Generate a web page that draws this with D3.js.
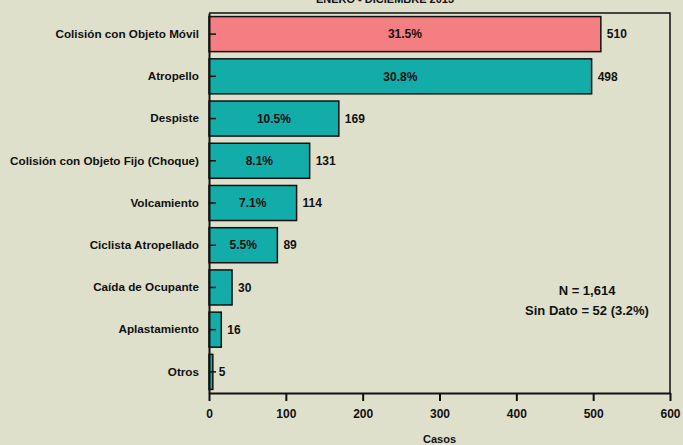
<!DOCTYPE html>
<html>
<head>
<meta charset="utf-8">
<script src="https://cdn.jsdelivr.net/npm/d3@7"></script>
<style>
  body { margin: 0; background: #dfe0cc; }
  svg { display: block; font-family: "Liberation Sans", Arial, sans-serif; font-weight: bold; }
</style>
</head>
<body>
<script>
const width = 683
const height = 445

const categories = [
  'Colisión con Objeto Móvil',
  'Atropello',
  'Despiste',
  'Colisión con Objeto Fijo (Choque)',
  'Volcamiento',
  'Ciclista Atropellado',
  'Caída de Ocupante',
  'Aplastamiento',
  'Otros'
]
const cases = [510, 498, 169, 131, 114, 89, 30, 16, 5]
const percents = ['31.5%', '30.8%', '10.5%', '8.1%', '7.1%', '5.5%', '', '', '']
const xTicks = [0, 100, 200, 300, 400, 500, 600]
const notes = ['N = 1,614', 'Sin Dato = 52 (3.2%)']
const title = 'ENERO - DICIEMBRE 2013'
const xTitle = 'Casos'

const margin = {top: 13, right: 13, bottom: 52, left: 209}

const svg = d3.select('body')
  .append('svg')
  .attr('width', width)
  .attr('height', height)

svg.append('rect')
  .attr('width', width)
  .attr('height', height)
  .attr('fill', '#dfe0cc')

const x = d3.scaleLinear()
  .domain([0, 600])
  .range([margin.left, width - margin.right])

const y = d3.scaleBand()
  .domain(categories)
  .range([margin.top, height - margin.bottom])
  .paddingInner(0.17)
  .paddingOuter(0.085)

const rows = categories.map((c, i) => ({name: c, value: cases[i], pct: percents[i]}))

// frame (top and right)
svg.append('path')
  .attr('d', `M${x(0)},${margin.top}H${x(600)}V${height - margin.bottom}`)
  .attr('fill', 'none')
  .attr('stroke', '#111')
  .attr('stroke-width', 1.5)

svg.selectAll('.bar')
  .data(rows)
  .enter()
  .append('rect')
  .classed('bar', true)
  .attr('x', x(0))
  .attr('y', (d) => y(d.name))
  .attr('width', (d) => x(d.value) - x(0))
  .attr('height', y.bandwidth())
  .attr('fill', (d, i) => i === 0 ? '#f47f82' : '#12aca9')
  .attr('stroke', '#111')
  .attr('stroke-width', 1.5)

svg.selectAll('.pct')
  .data(rows.filter((d) => d.pct))
  .enter()
  .append('text')
  .classed('pct', true)
  .attr('x', (d) => (x(0) + x(d.value)) / 2)
  .attr('y', (d) => y(d.name) + y.bandwidth() / 2)
  .attr('dy', '0.35em')
  .attr('text-anchor', 'middle')
  .attr('font-size', 12)
  .attr('fill', '#111')
  .text((d) => d.pct)

svg.selectAll('.val')
  .data(rows)
  .enter()
  .append('text')
  .classed('val', true)
  .attr('x', (d) => x(d.value) + 6)
  .attr('y', (d) => y(d.name) + y.bandwidth() / 2)
  .attr('dy', '0.35em')
  .attr('font-size', 12)
  .attr('fill', '#111')
  .text((d) => d.value)

// y axis, ticks cross the line
const yAxis = svg.append('g')
  .attr('transform', `translate(${x(0)},0)`)
  .call(d3.axisLeft(y).tickSize(7).tickPadding(3).tickSizeOuter(0))
yAxis.select('.domain').attr('stroke', '#111').attr('stroke-width', 2)
yAxis.selectAll('.tick line').attr('x2', 7).attr('stroke', '#111').attr('stroke-width', 1.5)
yAxis.selectAll('.tick text')
  .attr('font-size', 11.7)
  .attr('font-family', '"Liberation Sans", Arial, sans-serif')
  .attr('font-weight', 'bold')
  .attr('fill', '#111')

const xAxis = svg.append('g')
  .attr('transform', `translate(0,${height - margin.bottom})`)
  .call(d3.axisBottom(x).tickValues(xTicks).tickSize(8).tickPadding(8).tickSizeOuter(0))
xAxis.select('.domain').attr('stroke', '#111').attr('stroke-width', 2)
xAxis.selectAll('.tick line').attr('stroke', '#111').attr('stroke-width', 2)
xAxis.selectAll('.tick text')
  .attr('font-size', 12)
  .attr('font-family', '"Liberation Sans", Arial, sans-serif')
  .attr('font-weight', 'bold')
  .attr('fill', '#111')

svg.append('text')
  .attr('x', (x(0) + x(600)) / 2)
  .attr('y', height - 2)
  .attr('text-anchor', 'middle')
  .attr('font-size', 11)
  .attr('fill', '#111')
  .text(xTitle)

svg.append('text')
  .attr('x', 385)
  .attr('y', 3)
  .attr('text-anchor', 'middle')
  .attr('font-size', 11)
  .attr('fill', '#111')
  .text(title)

svg.selectAll('.note')
  .data(notes)
  .enter()
  .append('text')
  .classed('note', true)
  .attr('x', 587)
  .attr('y', (d, i) => 295 + i * 20)
  .attr('text-anchor', 'middle')
  .attr('font-size', 13)
  .attr('fill', '#111')
  .text((d) => d)
</script>
</body>
</html>
